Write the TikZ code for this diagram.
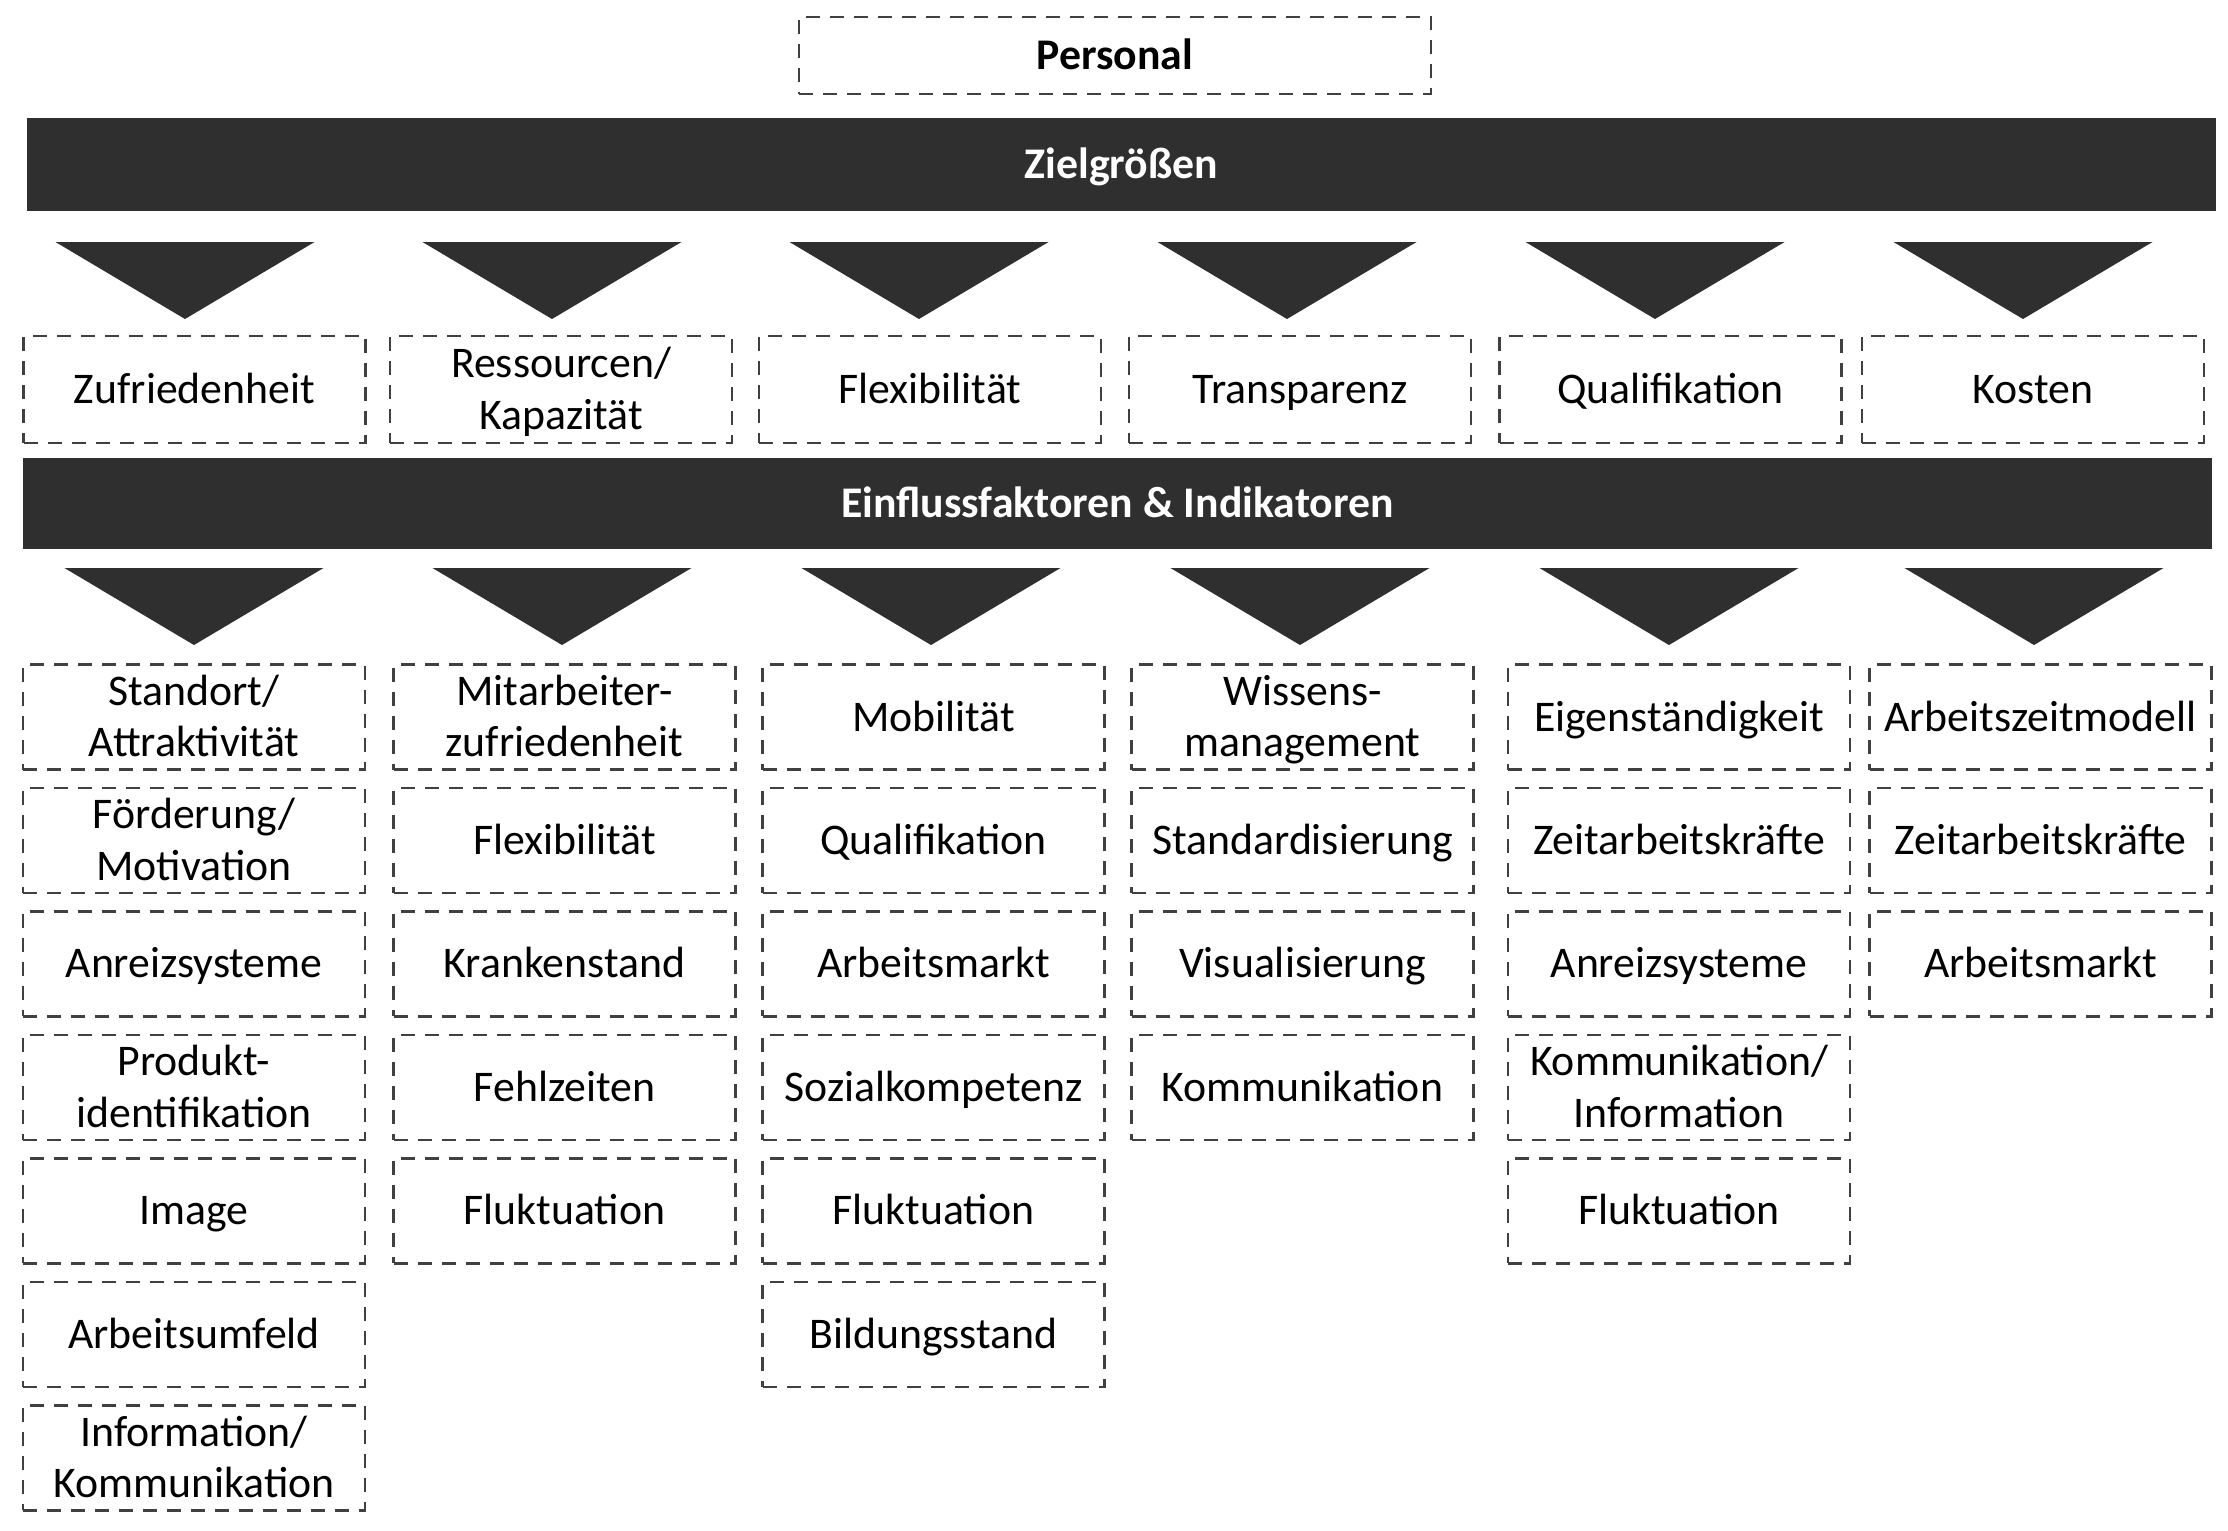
\documentclass[tikz,border=0pt]{standalone}
\usepackage{fontspec}
\setmainfont{Carlito}
\usetikzlibrary{positioning}
\definecolor{bargray}{RGB}{47,47,47}
\definecolor{linegray}{RGB}{64,64,64}

\begin{document}
\begin{tikzpicture}[x=0.1mm,y=-0.1mm,node distance=1.6mm,
		factor/.style={draw=linegray,line width=0.7pt,dash pattern=on 1.4mm off 1mm,
			minimum width=34.2mm,minimum height=10.5mm,inner sep=0pt,align=center,
			text height=2.8mm,text depth=0pt,
			font=\fontsize{12.45pt}{14.6pt}\selectfont},
		twoline/.style={text height=7.95mm},
		target/.style={factor,minimum height=10.7mm},
		bar/.style={fill=bargray,text=white,minimum width=218.9mm,inner sep=0pt,
			text height=2.8mm,text depth=0pt,
			font=\fontsize{12.45pt}{14.6pt}\selectfont\bfseries}]
			\useasboundingbox (0,0) rectangle (2228,1530);
			\node[factor,minimum width=63.2mm,minimum height=7.7mm,
				font=\fontsize{12.45pt}{14.6pt}\selectfont\bfseries] (p) at (1115,55.5) {Personal};
			\node[bar,minimum height=9.3mm] (zg) at (1121.5,164.5) {Zielgrößen};
			\foreach \x in {185,552,919,1287,1655,2023}
				\fill[bargray] (\x-129.5,242) -- (\x+129.5,242) -- (\x,319) -- cycle;
			\node[target] (z1) at (194.5,389.5) {Zufriedenheit};
			\node[target,twoline] (z2) at (561,389.5) {Ressourcen/\\Kapazität};
			\node[target] (z3) at (930,389.5) {Flexibilität};
			\node[target] (z4) at (1300,389.5) {Transparenz};
			\node[target] (z5) at (1670.5,389.5) {Qualifikation};
			\node[target] (z6) at (2033,389.5) {Kosten};
			\node[bar,minimum height=9.1mm] (ef) at (1117.5,503.5) {Einflussfaktoren \& Indikatoren};
			\foreach \x in {194,562,931,1300,1669,2034}
				\fill[bargray] (\x-129.5,568) -- (\x+129.5,568) -- (\x,645) -- cycle;
			% Spalte 1
			\node[factor,twoline] (f11) at (194,717) {Standort/\\Attraktivität};
			\node[factor,twoline,below=of f11] (f12) {Förderung/\\Motivation};
			\node[factor,below=of f12] (f13) {Anreizsysteme};
			\node[factor,twoline,below=of f13] (f14) {Produkt-\\identifikation};
			\node[factor,below=of f14] (f15) {Image};
			\node[factor,below=of f15] (f16) {Arbeitsumfeld};
			\node[factor,twoline,below=of f16] (f17) {Information/\\Kommunikation};
			% Spalte 2
			\node[factor,twoline] (f21) at (564.5,717) {Mitarbeiter-\\zufriedenheit};
			\node[factor,below=of f21] (f22) {Flexibilität};
			\node[factor,below=of f22] (f23) {Krankenstand};
			\node[factor,below=of f23] (f24) {Fehlzeiten};
			\node[factor,below=of f24] (f25) {Fluktuation};
			% Spalte 3
			\node[factor] (f31) at (933.5,717) {Mobilität};
			\node[factor,below=of f31] (f32) {Qualifikation};
			\node[factor,below=of f32] (f33) {Arbeitsmarkt};
			\node[factor,below=of f33] (f34) {Sozialkompetenz};
			\node[factor,below=of f34] (f35) {Fluktuation};
			\node[factor,below=of f35] (f36) {Bildungsstand};
			% Spalte 4
			\node[factor,twoline] (f41) at (1302.5,717) {Wissens-\\management};
			\node[factor,below=of f41] (f42) {Standardisierung};
			\node[factor,below=of f42] (f43) {Visualisierung};
			\node[factor,below=of f43] (f44) {Kommunikation};
			% Spalte 5
			\node[factor] (f51) at (1679,717) {Eigenständigkeit};
			\node[factor,below=of f51] (f52) {Zeitarbeitskräfte};
			\node[factor,below=of f52] (f53) {Anreizsysteme};
			\node[factor,twoline,below=of f53] (f54) {Kommunikation/\\Information};
			\node[factor,below=of f54] (f55) {Fluktuation};
			% Spalte 6
			\node[factor] (f61) at (2040.5,717) {Arbeitszeitmodell};
			\node[factor,below=of f61] (f62) {Zeitarbeitskräfte};
			\node[factor,below=of f62] (f63) {Arbeitsmarkt};
		\end{tikzpicture}
\end{document}
